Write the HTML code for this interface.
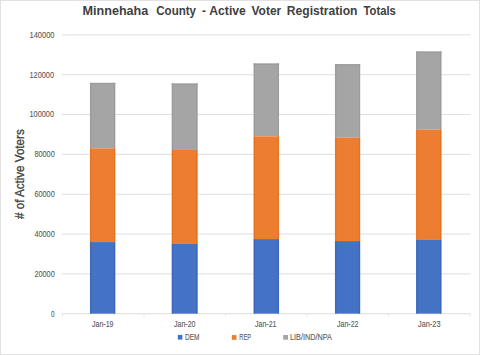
<!DOCTYPE html>
<html><head><meta charset="utf-8">
<style>
html,body{margin:0;padding:0;background:#fff;}
body{width:480px;height:355px;overflow:hidden;position:relative;}
svg{position:absolute;left:0;top:0;}
text{font-family:"Liberation Sans",sans-serif;}
text[font-size="9"],text[font-size="8.3"]{stroke:#595959;stroke-width:0.1;}
text[font-size="12"]{stroke:#404040;stroke-width:0.3;}
</style></head>
<body>
<svg width="480" height="355" viewBox="0 0 480 355">
<rect x="0" y="0" width="480" height="355" fill="#fff"/>
<rect x="0.5" y="0.5" width="479" height="354" fill="none" stroke="#e2e2e2" stroke-width="1"/>
<g stroke="#dedede" stroke-width="1">
<line x1="62" x2="470.5" y1="34.90" y2="34.90"/>
<line x1="62" x2="470.5" y1="74.73" y2="74.73"/>
<line x1="62" x2="470.5" y1="114.56" y2="114.56"/>
<line x1="62" x2="470.5" y1="154.39" y2="154.39"/>
<line x1="62" x2="470.5" y1="194.22" y2="194.22"/>
<line x1="62" x2="470.5" y1="234.05" y2="234.05"/>
<line x1="62" x2="470.5" y1="273.88" y2="273.88"/>
</g>
<g stroke="#dedede" stroke-width="1">
<line x1="62" x2="470.5" y1="313.71" y2="313.71"/>
<line x1="62.5" x2="62.5" y1="313.71" y2="316.5" stroke="#e4e4e4"/>
<line x1="144" x2="144" y1="313.71" y2="316.5" stroke="#e4e4e4"/>
<line x1="225.5" x2="225.5" y1="313.71" y2="316.5" stroke="#e4e4e4"/>
<line x1="307" x2="307" y1="313.71" y2="316.5" stroke="#e4e4e4"/>
<line x1="388.5" x2="388.5" y1="313.71" y2="316.5" stroke="#e4e4e4"/>
<line x1="470" x2="470" y1="313.71" y2="316.5" stroke="#e4e4e4"/>
</g>
<g>
<rect x="89.94" y="82.79" width="25.41" height="65.56" fill="#a5a5a5"/>
<rect x="90.44" y="82.79" width="1" height="65.56" fill="#9a9a9a"/>
<rect x="113.95" y="82.79" width="1" height="65.56" fill="#9a9a9a"/>
<rect x="89.94" y="148.35" width="25.41" height="93.72" fill="#ed7d31"/>
<rect x="90.44" y="148.35" width="1" height="93.72" fill="#e8701c"/>
<rect x="113.95" y="148.35" width="1" height="93.72" fill="#e8701c"/>
<rect x="89.94" y="242.07" width="25.41" height="71.56" fill="#4472c4"/>
<rect x="90.44" y="242.07" width="1" height="71.56" fill="#3b66bb"/>
<rect x="113.95" y="242.07" width="1" height="71.56" fill="#3b66bb"/>
<rect x="171.65" y="83.37" width="25.98" height="66.56" fill="#a5a5a5"/>
<rect x="172.15" y="83.37" width="1" height="66.56" fill="#9a9a9a"/>
<rect x="196.23" y="83.37" width="1" height="66.56" fill="#9a9a9a"/>
<rect x="171.65" y="149.93" width="25.98" height="93.99" fill="#ed7d31"/>
<rect x="172.15" y="149.93" width="1" height="93.99" fill="#e8701c"/>
<rect x="196.23" y="149.93" width="1" height="93.99" fill="#e8701c"/>
<rect x="171.65" y="243.92" width="25.98" height="69.71" fill="#4472c4"/>
<rect x="172.15" y="243.92" width="1" height="69.71" fill="#3b66bb"/>
<rect x="196.23" y="243.92" width="1" height="69.71" fill="#3b66bb"/>
<rect x="253.5" y="63.37" width="25.57" height="72.98" fill="#a5a5a5"/>
<rect x="254.00" y="63.37" width="1" height="72.98" fill="#9a9a9a"/>
<rect x="277.67" y="63.37" width="1" height="72.98" fill="#9a9a9a"/>
<rect x="253.5" y="136.35" width="25.57" height="102.72" fill="#ed7d31"/>
<rect x="254.00" y="136.35" width="1" height="102.72" fill="#e8701c"/>
<rect x="277.67" y="136.35" width="1" height="102.72" fill="#e8701c"/>
<rect x="253.5" y="239.07" width="25.57" height="74.56" fill="#4472c4"/>
<rect x="254.00" y="239.07" width="1" height="74.56" fill="#3b66bb"/>
<rect x="277.67" y="239.07" width="1" height="74.56" fill="#3b66bb"/>
<rect x="334.93" y="64.07" width="25.28" height="73.56" fill="#a5a5a5"/>
<rect x="335.43" y="64.07" width="1" height="73.56" fill="#9a9a9a"/>
<rect x="358.81" y="64.07" width="1" height="73.56" fill="#9a9a9a"/>
<rect x="334.93" y="137.63" width="25.28" height="103.44" fill="#ed7d31"/>
<rect x="335.43" y="137.63" width="1" height="103.44" fill="#e8701c"/>
<rect x="358.81" y="137.63" width="1" height="103.44" fill="#e8701c"/>
<rect x="334.93" y="241.07" width="25.28" height="72.56" fill="#4472c4"/>
<rect x="335.43" y="241.07" width="1" height="72.56" fill="#3b66bb"/>
<rect x="358.81" y="241.07" width="1" height="72.56" fill="#3b66bb"/>
<rect x="416.07" y="51.37" width="25.43" height="78.26" fill="#a5a5a5"/>
<rect x="416.57" y="51.37" width="1" height="78.26" fill="#9a9a9a"/>
<rect x="440.10" y="51.37" width="1" height="78.26" fill="#9a9a9a"/>
<rect x="416.07" y="129.63" width="25.43" height="110.30" fill="#ed7d31"/>
<rect x="416.57" y="129.63" width="1" height="110.30" fill="#e8701c"/>
<rect x="440.10" y="129.63" width="1" height="110.30" fill="#e8701c"/>
<rect x="416.07" y="239.93" width="25.43" height="73.70" fill="#4472c4"/>
<rect x="416.57" y="239.93" width="1" height="73.70" fill="#3b66bb"/>
<rect x="440.10" y="239.93" width="1" height="73.70" fill="#3b66bb"/>
<rect x="89.94" y="83.19" width="25.41" height="1" fill="#9a9a9a"/>
<rect x="171.65" y="83.77" width="25.98" height="1" fill="#9a9a9a"/>
<rect x="253.5" y="63.77" width="25.57" height="1" fill="#9a9a9a"/>
<rect x="334.93" y="64.47" width="25.28" height="1" fill="#9a9a9a"/>
<rect x="416.07" y="51.77" width="25.43" height="1" fill="#9a9a9a"/>
</g>
<rect x="177.8" y="334.9" width="4.6" height="4.7" fill="#4472c4"/>
<rect x="231.9" y="335.1" width="4.6" height="4.7" fill="#ed7d31"/>
<rect x="283.2" y="335" width="4.8" height="4.7" fill="#a5a5a5"/>
<text x="82.50" y="14.80" font-size="12.5" font-weight="bold" fill="#404040" textLength="65.80" lengthAdjust="spacingAndGlyphs">Minnehaha</text>
<text x="156.25" y="14.80" font-size="12.5" font-weight="bold" fill="#404040" textLength="39.81" lengthAdjust="spacingAndGlyphs">County</text>
<text x="202.00" y="15.30" font-size="12.5" font-weight="bold" fill="#404040" textLength="4.00" lengthAdjust="spacingAndGlyphs">-</text>
<text x="209.30" y="14.80" font-size="12.5" font-weight="bold" fill="#404040" textLength="36.53" lengthAdjust="spacingAndGlyphs">Active</text>
<text x="251.50" y="14.80" font-size="12.5" font-weight="bold" fill="#404040" textLength="29.78" lengthAdjust="spacingAndGlyphs">Voter</text>
<text x="286.75" y="14.80" font-size="12.5" font-weight="bold" fill="#404040" textLength="70.69" lengthAdjust="spacingAndGlyphs">Registration</text>
<text x="363.50" y="14.80" font-size="12.5" font-weight="bold" fill="#404040" textLength="32.39" lengthAdjust="spacingAndGlyphs">Totals</text>
<text x="29.50" y="37.75" font-size="9" fill="#595959" textLength="25.05" lengthAdjust="spacingAndGlyphs">140000</text>
<text x="29.50" y="77.58" font-size="9" fill="#595959" textLength="24.55" lengthAdjust="spacingAndGlyphs">120000</text>
<text x="29.50" y="117.41" font-size="9" fill="#595959" textLength="24.55" lengthAdjust="spacingAndGlyphs">100000</text>
<text x="34.43" y="157.24" font-size="9" fill="#595959" textLength="20.30" lengthAdjust="spacingAndGlyphs">80000</text>
<text x="34.43" y="197.07" font-size="9" fill="#595959" textLength="20.30" lengthAdjust="spacingAndGlyphs">60000</text>
<text x="34.43" y="236.90" font-size="9" fill="#595959" textLength="20.30" lengthAdjust="spacingAndGlyphs">40000</text>
<text x="34.43" y="276.73" font-size="9" fill="#595959" textLength="20.30" lengthAdjust="spacingAndGlyphs">20000</text>
<text x="51.00" y="316.56" font-size="9" fill="#595959" textLength="3.52" lengthAdjust="spacingAndGlyphs">0</text>
<text x="92.00" y="326.60" font-size="9" fill="#595959" textLength="21.53" lengthAdjust="spacingAndGlyphs">Jan-19</text>
<text x="174.00" y="326.60" font-size="9" fill="#595959" textLength="21.53" lengthAdjust="spacingAndGlyphs">Jan-20</text>
<text x="255.00" y="326.60" font-size="9" fill="#595959" textLength="21.53" lengthAdjust="spacingAndGlyphs">Jan-21</text>
<text x="337.00" y="326.60" font-size="9" fill="#595959" textLength="21.53" lengthAdjust="spacingAndGlyphs">Jan-22</text>
<text x="418.00" y="326.60" font-size="9" fill="#595959" textLength="22.53" lengthAdjust="spacingAndGlyphs">Jan-23</text>
<text x="185.00" y="339.88" font-size="8.3" fill="#595959" textLength="14.44" lengthAdjust="spacingAndGlyphs">DEM</text>
<text x="239.25" y="339.88" font-size="8.3" fill="#595959" textLength="11.81" lengthAdjust="spacingAndGlyphs">REP</text>
<text x="290.00" y="339.88" font-size="8.3" fill="#595959" textLength="41.80" lengthAdjust="spacingAndGlyphs">LIB/IND/NPA</text>
<text transform="translate(24.00,219.00) rotate(-90)" font-size="12" fill="#404040" textLength="89.72" lengthAdjust="spacingAndGlyphs">#  of Active Voters</text>
</svg>
</body></html>
